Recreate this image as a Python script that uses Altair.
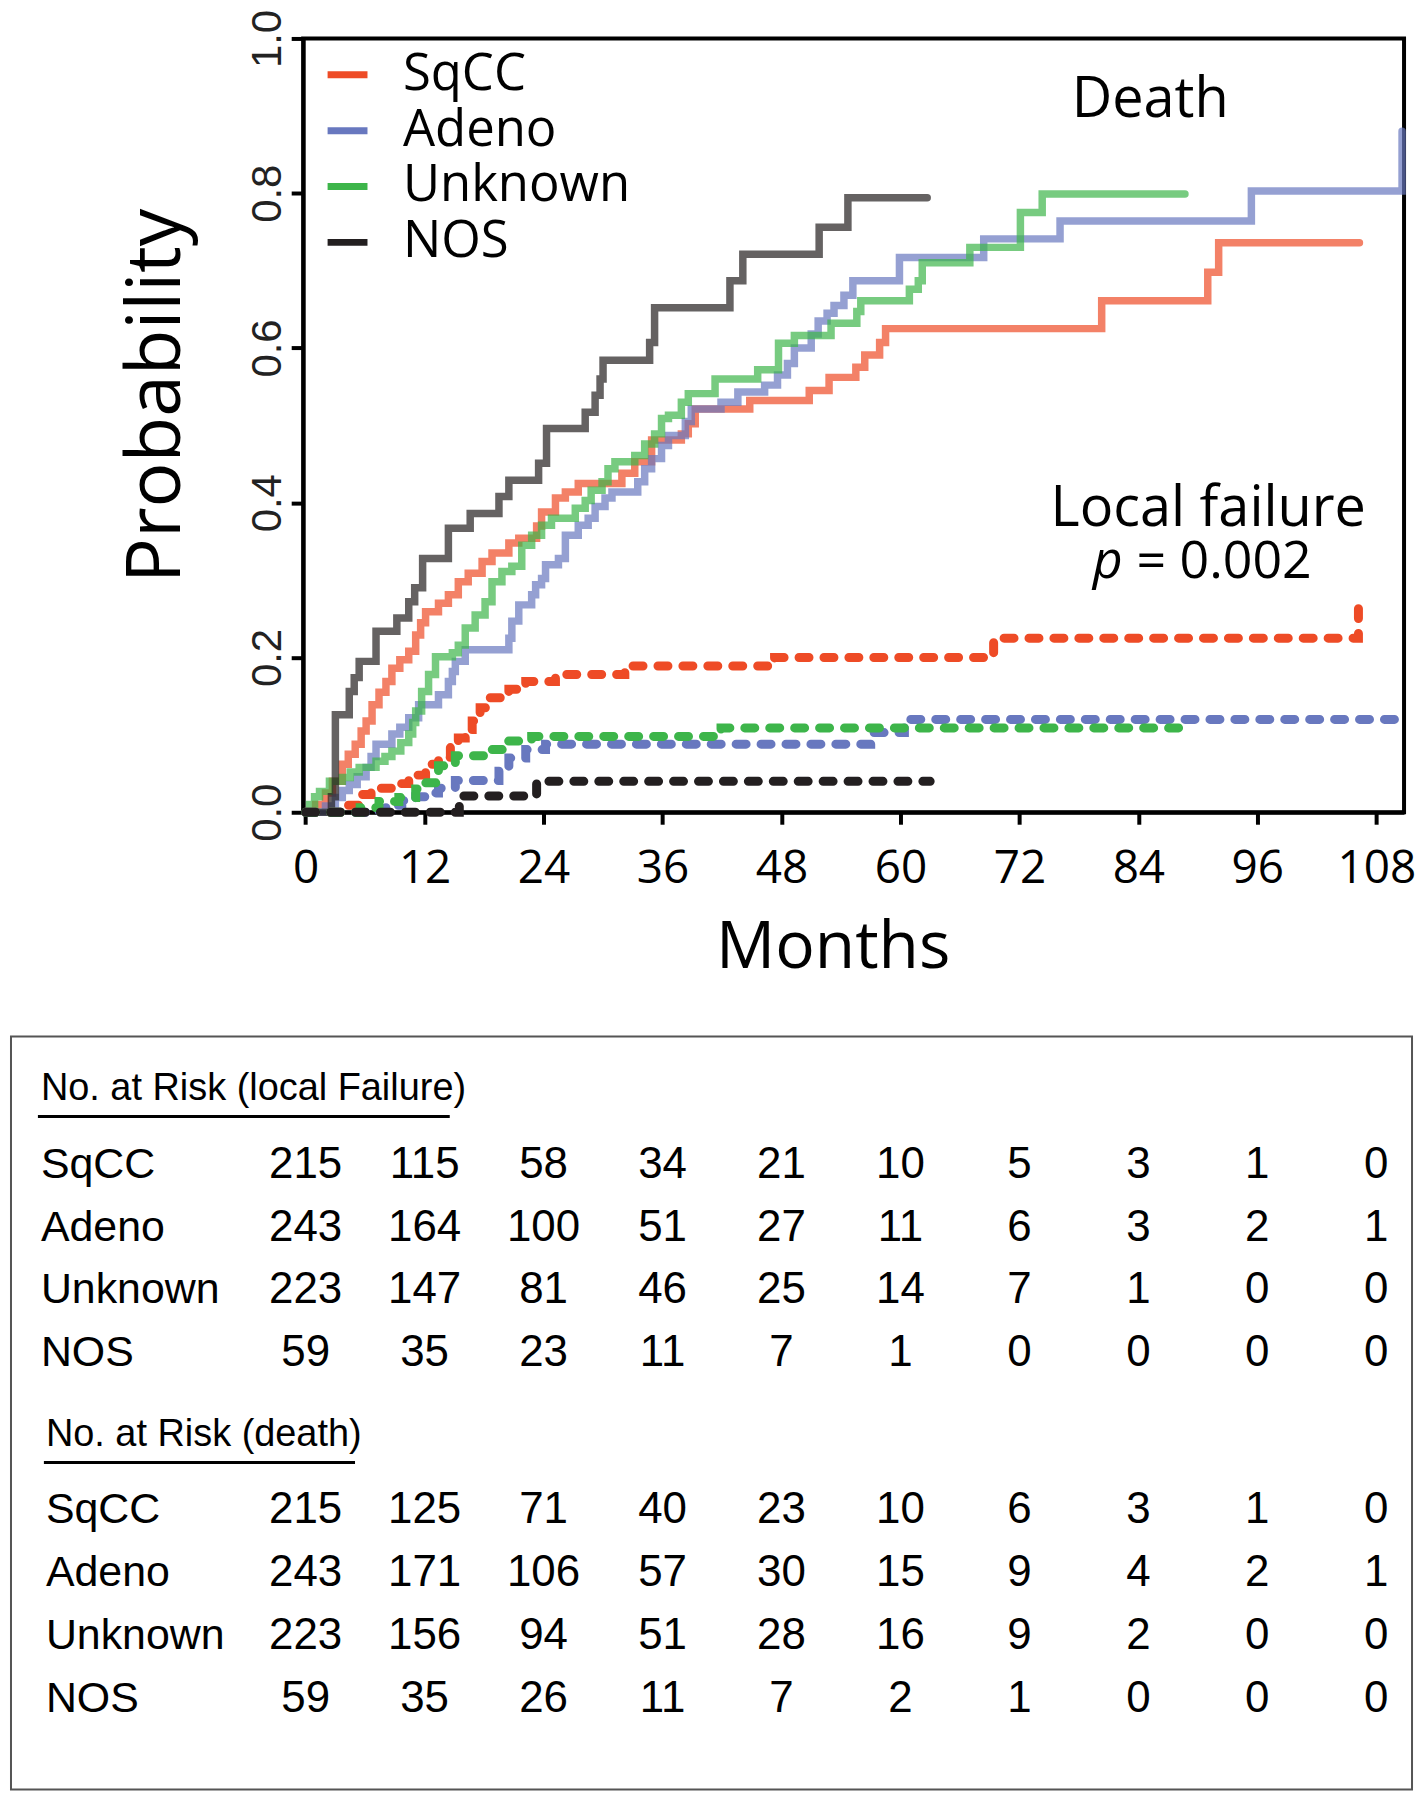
import altair as alt
import pandas as pd

# ---------------- data ----------------
GROUPS = ["SqCC", "Adeno", "Unknown", "NOS"]
COLORS = ["#EE4B26", "#6878BF", "#3DB54A", "#231F20"]
MONTH_TICKS = [0, 12, 24, 36, 48, 60, 72, 84, 96, 108]
PROB_TICKS = [0.0, 0.2, 0.4, 0.6, 0.8, 1.0]

# cumulative incidence of death (solid, step-after) : (month, probability)
DEATH_SQCC = [(0, 0), (1.0, 0.010), (2.0, 0.025), (2.7, 0.040), (3.7, 0.062), (4.3, 0.075), (5.0, 0.088),
              (5.6, 0.105), (6.1, 0.118), (6.7, 0.139), (7.4, 0.155), (8.1, 0.169), (8.7, 0.186), (9.5, 0.197),
              (10.4, 0.208), (11.1, 0.229), (11.6, 0.245), (12.1, 0.259), (13.4, 0.270), (14.4, 0.281),
              (15.4, 0.298), (16.4, 0.309), (17.8, 0.324), (18.8, 0.335), (20.5, 0.348), (21.5, 0.354),
              (23.3, 0.370), (23.8, 0.388), (25.2, 0.406), (26.2, 0.414), (27.5, 0.425), (31.9, 0.438),
              (33.2, 0.453), (34.9, 0.481), (37.9, 0.489), (38.6, 0.502), (39.3, 0.521), (44.8, 0.532),
              (50.8, 0.545), (52.8, 0.562), (55.5, 0.575), (56.4, 0.591), (57.9, 0.607), (58.5, 0.625),
              (80.3, 0.661), (91.0, 0.698), (92.1, 0.736), (106.3, 0.736)]
DEATH_ADENO = [(0, 0), (2.0, 0.008), (3.0, 0.019), (3.7, 0.028), (4.4, 0.036), (5.2, 0.046), (6.1, 0.058),
               (6.6, 0.072), (7.1, 0.088), (8.7, 0.101), (9.5, 0.110), (10.4, 0.122), (11.4, 0.139),
               (13.4, 0.152), (14.4, 0.169), (14.8, 0.182), (15.1, 0.195), (16.1, 0.210), (20.5, 0.225),
               (20.8, 0.247), (21.5, 0.268), (22.8, 0.281), (23.2, 0.294), (23.8, 0.302), (24.2, 0.320),
               (25.5, 0.328), (26.2, 0.358), (27.5, 0.371), (28.5, 0.380), (29.2, 0.395), (30.2, 0.406),
               (30.9, 0.414), (33.5, 0.427), (34.2, 0.444), (34.9, 0.457), (35.9, 0.474), (36.6, 0.487),
               (38.3, 0.505), (38.9, 0.521), (41.9, 0.530), (43.6, 0.543), (46.3, 0.552), (47.6, 0.565),
               (48.6, 0.580), (49.3, 0.600), (51.0, 0.618), (51.7, 0.635), (52.6, 0.645), (53.3, 0.655),
               (54.3, 0.668), (55.2, 0.687), (59.9, 0.717), (68.4, 0.741), (76.1, 0.764), (95.4, 0.803),
               (110.6, 0.880)]
DEATH_UNKNOWN = [(0, 0), (0.4, 0.010), (0.9, 0.020), (1.4, 0.027), (2.4, 0.040), (3.7, 0.045), (4.5, 0.052),
                 (5.4, 0.058), (7.1, 0.066), (8.0, 0.072), (8.7, 0.079), (9.6, 0.090), (10.4, 0.101),
                 (10.8, 0.116), (11.1, 0.131), (11.7, 0.156), (12.4, 0.178), (13.1, 0.201), (14.8, 0.206),
                 (15.4, 0.216), (16.1, 0.238), (17.1, 0.255), (18.1, 0.272), (18.8, 0.298), (19.8, 0.311),
                 (20.8, 0.318), (21.8, 0.345), (22.8, 0.358), (23.8, 0.371), (24.8, 0.380), (27.2, 0.393),
                 (28.2, 0.403), (28.8, 0.416), (29.9, 0.427), (30.5, 0.444), (31.2, 0.453), (33.2, 0.461),
                 (34.2, 0.476), (35.2, 0.489), (35.9, 0.509), (36.6, 0.513), (37.9, 0.530), (38.6, 0.541),
                 (41.3, 0.560), (45.6, 0.572), (47.7, 0.606), (49.3, 0.616), (53.0, 0.632), (55.6, 0.647),
                 (56.0, 0.661), (60.9, 0.676), (61.8, 0.687), (62.2, 0.710), (67.0, 0.730), (72.1, 0.775),
                 (74.3, 0.799), (88.7, 0.799)]
DEATH_NOS = [(0, 0), (2.6, 0.020), (3.0, 0.126), (4.4, 0.156), (4.9, 0.174), (5.4, 0.195), (7.1, 0.234),
             (9.2, 0.251), (10.4, 0.272), (11.0, 0.290), (11.8, 0.328), (14.4, 0.367), (16.6, 0.386),
             (19.5, 0.408), (20.5, 0.429), (23.5, 0.451), (24.3, 0.496), (28.2, 0.517), (29.2, 0.539),
             (29.7, 0.560), (30.0, 0.584), (34.7, 0.607), (35.2, 0.652), (42.8, 0.687), (44.1, 0.721),
             (51.8, 0.756), (54.7, 0.794), (62.7, 0.794)]

# cumulative incidence of local failure (dashed)
LF_SQCC = [(0, 0), (4.0, 0.009), (5.7, 0.023), (6.6, 0.031), (9.1, 0.037), (10.4, 0.048), (12.1, 0.062),
           (13.4, 0.071), (14.6, 0.084), (15.4, 0.096), (16.1, 0.107), (16.8, 0.118), (17.6, 0.135),
           (18.3, 0.148), (20.5, 0.159), (22.2, 0.169), (25.2, 0.178), (32.2, 0.189), (47.3, 0.200),
           (69.4, 0.225), (106.2, 0.265)]
LF_ADENO = [(0, 0), (7.1, 0.002), (8.1, 0.009), (9.7, 0.015), (11.1, 0.020), (12.1, 0.025), (13.4, 0.031),
            (15.1, 0.041), (19.5, 0.053), (20.5, 0.070), (22.2, 0.081), (24.2, 0.088), (57.0, 0.103),
            (60.4, 0.120), (110.8, 0.120)]
LF_UNKNOWN = [(0, 0), (5.5, 0.006), (7.4, 0.014), (9.4, 0.019), (11.1, 0.030), (12.1, 0.038), (13.4, 0.060),
              (15.1, 0.073), (18.1, 0.081), (20.1, 0.092), (22.8, 0.098), (41.9, 0.109), (88.2, 0.109)]
LF_NOS = [(0, 0), (15.5, 0.021), (23.3, 0.040), (63.0, 0.040)]

# numbers at risk
RISK_LF = {
    "SqCC": [215, 115, 58, 34, 21, 10, 5, 3, 1, 0],
    "Adeno": [243, 164, 100, 51, 27, 11, 6, 3, 2, 1],
    "Unknown": [223, 147, 81, 46, 25, 14, 7, 1, 0, 0],
    "NOS": [59, 35, 23, 11, 7, 1, 0, 0, 0, 0],
}
RISK_DEATH = {
    "SqCC": [215, 125, 71, 40, 23, 10, 6, 3, 1, 0],
    "Adeno": [243, 171, 106, 57, 30, 15, 9, 4, 2, 1],
    "Unknown": [223, 156, 94, 51, 28, 16, 9, 2, 0, 0],
    "NOS": [59, 35, 26, 11, 7, 2, 1, 0, 0, 0],
}
HEADER_LF = "No. at Risk (local Failure)"
HEADER_DEATH = "No. at Risk (death)"


def curves(series):
    rows = []
    for g, pts in zip(GROUPS, series):
        for i, (t, p) in enumerate(pts):
            rows.append({"group": g, "t": t, "p": p, "i": i})
    return pd.DataFrame(rows)


death_df = curves([DEATH_SQCC, DEATH_ADENO, DEATH_UNKNOWN, DEATH_NOS])
lf_df = curves([LF_SQCC, LF_ADENO, LF_UNKNOWN, LF_NOS])

# table rows: slot index (header, then 4 rows) for each block
num_rows, lab_rows1, lab_rows2 = [], [], []
for b, table in enumerate([RISK_LF, RISK_DEATH]):
    base = 5.5 * b
    for r, g in enumerate(GROUPS):
        slot = base + 1.2 + r
        (lab_rows1 if b == 0 else lab_rows2).append({"slot": slot, "label": g})
        for m, v in zip(MONTH_TICKS, table[g]):
            num_rows.append({"t": m, "slot": slot, "v": str(v)})
num_df = pd.DataFrame(num_rows)
lab1_df = pd.DataFrame(lab_rows1)
lab2_df = pd.DataFrame(lab_rows2)
hdr1_df = pd.DataFrame([{"slot": 0.0, "label": HEADER_LF}])
hdr2_df = pd.DataFrame([{"slot": 5.5, "label": HEADER_DEATH}])

# ---------------- styling ----------------
W, H = 1104, 776
FONT = "Open Sans"
NARROW = "Liberation Sans Narrow, Arial Narrow, Liberation Sans"

xscale = alt.Scale(domain=[-0.25, 110.8], nice=False, zero=False)
yscale = alt.Scale(domain=[0, 1], nice=False, zero=False)
tscale = alt.Scale(domain=[0, 10], range=[1054, 1684], nice=False, zero=False)
cscale = alt.Scale(domain=GROUPS, range=COLORS)

xaxis = alt.Axis(values=MONTH_TICKS, format="d", labelFont=FONT, labelFontSize=46, labelColor="black",
                 labelPadding=22, labelFlush=False, tickSize=12, tickWidth=4, tickColor="black",
                 domainColor="black", domainWidth=4, grid=False, title="Months", titleFont=FONT,
                 titleFontSize=66, titleFontWeight="normal", titleColor="black", titleX=531, titleY=156,
                 titleAlign="center", titleBaseline="alphabetic")
yaxis = alt.Axis(values=PROB_TICKS, format=".1f", labelAngle=270, labelAlign="center",
                 labelBaseline="alphabetic", labelFont=NARROW, labelFontSize=42, labelColor="#222222",
                 labelPadding=11, labelFlush=False, tickSize=12, tickWidth=4, tickColor="black",
                 domainColor="black", domainWidth=4, grid=False, title="Probability", titleFont=FONT,
                 titleFontSize=75, titleFontWeight="normal", titleColor="black", titleAngle=270,
                 titleX=-124, titleY=358, titleAlign="center", titleBaseline="alphabetic")
legend = alt.Legend(orient="none", legendX=19, legendY=11, title=None, symbolType="stroke",
                    symbolSize=1600, symbolStrokeWidth=7, symbolOpacity=1, labelFont=FONT,
                    labelFontSize=51, labelColor="black", labelOffset=30, labelLimit=600,
                    rowPadding=4, padding=0)

X = alt.X("t:Q", scale=xscale, axis=xaxis)
Y = alt.Y("p:Q", scale=yscale, axis=yaxis)

death = alt.Chart(death_df).mark_line(interpolate="step-after", strokeWidth=7.5, opacity=0.7,
                                      strokeCap="round").encode(
    x=X,
    y=Y,
    color=alt.Color("group:N", scale=cscale, legend=legend),
    order="i:Q",
)
lf = alt.Chart(lf_df).mark_line(interpolate="step-after", strokeWidth=9, strokeDash=[10, 15],
                                strokeCap="round").encode(
    x=X,
    y=Y,
    color=alt.Color("group:N", scale=cscale, legend=None),
    order="i:Q",
)


def note(t, p, text, size, align, italic=False):
    return alt.Chart(pd.DataFrame([{"t": t, "p": p, "s": text}])).mark_text(
        font=FONT, fontSize=size, align=align, baseline="alphabetic", color="black",
        fontStyle="italic" if italic else "normal").encode(x=X, y=Y, text="s:N")


n_death = note(85.2, 0.898, "Death", 56, "center")
n_lf = note(106.96, 0.37, "Local failure", 56, "right")
n_p = note(79.4, 0.303, "p", 52, "left", italic=True)
n_eq = note(83.8, 0.303, "= 0.002", 52, "left")

plot = alt.layer(death, lf, n_death, n_lf, n_p, n_eq)

numbers = alt.Chart(num_df).mark_text(font=NARROW, fontSize=44, align="center", baseline="middle",
                                      color="black").encode(
    x=X,
    y=alt.Y("slot:Q", scale=tscale, axis=None),
    text="v:N")


def left_text(df, xpos, size):
    return alt.Chart(df).mark_text(font=NARROW, fontSize=size, align="left", baseline="middle",
                                   color="black").encode(
        x=alt.value(xpos),
        y=alt.Y("slot:Q", scale=tscale, axis=None),
        text="label:N")


labels1 = left_text(lab1_df, -263, 43)
labels2 = left_text(lab2_df, -258, 43)
header1 = left_text(hdr1_df, -263, 38)
header2 = left_text(hdr2_df, -258, 38)

one = pd.DataFrame({"a": [0]})
box = alt.Chart(one).mark_rect(fillOpacity=0, stroke="#555555", strokeWidth=2).encode(
    x=alt.value(-293), x2=alt.value(1112), y=alt.value(1001), y2=alt.value(1756))
rule1 = alt.Chart(one).mark_rule(color="black", strokeWidth=3).encode(
    x=alt.value(-266), x2=alt.value(147), y=alt.value(1081))
rule2 = alt.Chart(one).mark_rule(color="black", strokeWidth=3).encode(
    x=alt.value(-260), x2=alt.value(52), y=alt.value(1428))

chart = alt.layer(
    plot, numbers, labels1, labels2, header1, header2, box, rule1, rule2
).resolve_scale(y="independent").properties(
    width=W, height=H,
    autosize=alt.AutoSizeParams(type="none"),
    padding={"left": 296, "top": 28, "right": 15, "bottom": 986},
).configure(background="white").configure_view(stroke="black", strokeWidth=4)

chart.save("out.html", embed_options={"renderer": "svg", "actions": False})
